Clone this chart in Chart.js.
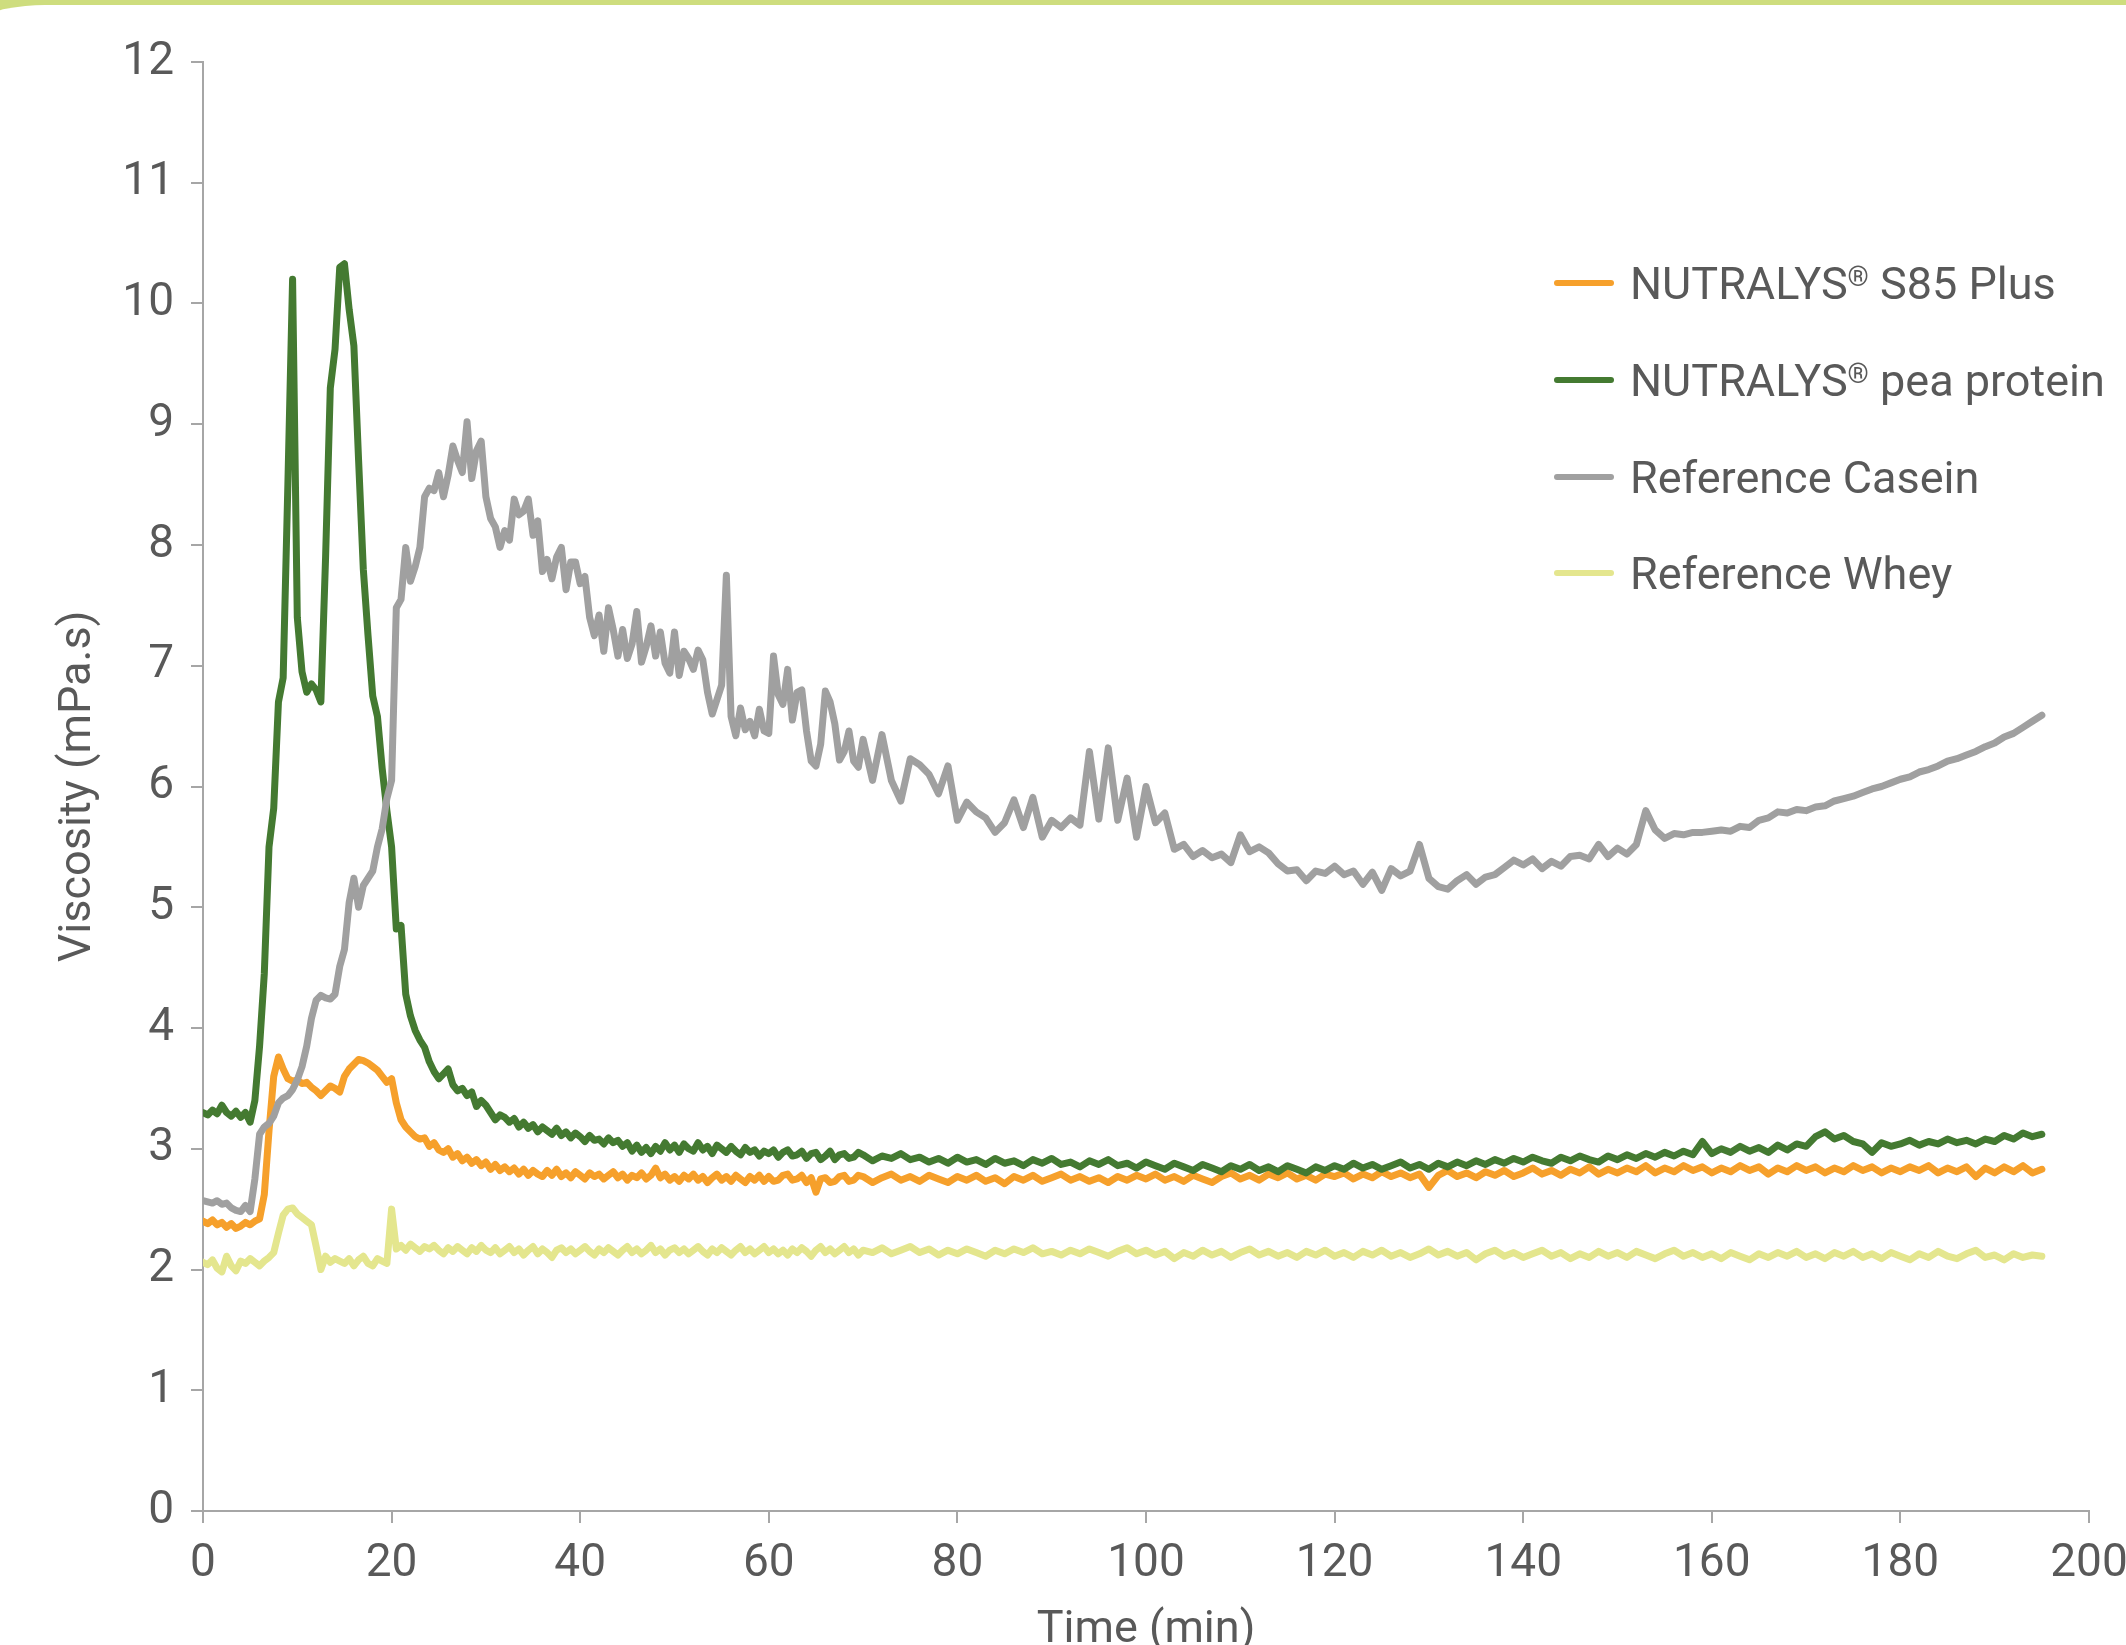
<!DOCTYPE html>
<html><head><meta charset="utf-8">
<script src="https://cdn.jsdelivr.net/npm/chart.js@4.4.1/dist/chart.umd.min.js"></script>
<style>
html,body{margin:0;padding:0;background:#fff;overflow:hidden;}
#wrap{position:relative;width:2126px;height:1645px;overflow:hidden;background:#fff;}
#band{position:absolute;left:0;top:0;width:2126px;height:60px;background:#cedd7e;}
#bandmask{position:absolute;left:-155px;top:5px;width:2400px;height:300px;background:#fff;border-top-left-radius:200px;}
#c{position:absolute;left:0;top:0;}
#legend{position:absolute;left:0;top:0;font-family:Roboto,'Noto Sans',sans-serif;color:#595959;font-size:45px;}
.item{position:absolute;left:1554px;height:60px;display:flex;align-items:center;white-space:nowrap;line-height:1;}
.swatch{width:60px;height:6px;border-radius:3px;margin-right:16px;flex:none;}
.item sup{font-size:0.6em;vertical-align:13px;line-height:0;}
</style></head>
<body>
<div id="wrap">
  <div id="band"></div><div id="bandmask"></div>
  <canvas id="c" width="2126" height="1645" style="width:2126px;height:1645px"></canvas>
  <div id="legend"></div>
</div>
<script>
// ---- data ----
const times = [
0,0.5,1,1.5,2,2.5,3,3.5,4,4.5,
5,5.5,6,6.5,7,7.5,8,8.5,9,9.5,
10,10.5,11,11.5,12,12.5,13,13.5,14,14.5,
15,15.5,16,16.5,17,17.5,18,18.5,19,19.5,
20,20.5,21,21.5,22,22.5,23,23.5,24,24.5,
25,25.5,26,26.5,27,27.5,28,28.5,29,29.5,
30,30.5,31,31.5,32,32.5,33,33.5,34,34.5,
35,35.5,36,36.5,37,37.5,38,38.5,39,39.5,
40,40.5,41,41.5,42,42.5,43,43.5,44,44.5,
45,45.5,46,46.5,47,47.5,48,48.5,49,49.5,
50,50.5,51,51.5,52,52.5,53,53.5,54,54.5,
55,55.5,56,56.5,57,57.5,58,58.5,59,59.5,
60,60.5,61,61.5,62,62.5,63,63.5,64,64.5,
65,65.5,66,66.5,67,67.5,68,68.5,69,69.5,
70,
71,72,73,74,75,76,77,78,79,80,
81,82,83,84,85,86,87,88,89,90,
91,92,93,94,95,96,97,98,99,100,
101,102,103,104,105,106,107,108,109,110,
111,112,113,114,115,116,117,118,119,120,
121,122,123,124,125,126,127,128,129,130,
131,132,133,134,135,136,137,138,139,140,
141,142,143,144,145,146,147,148,149,150,
151,152,153,154,155,156,157,158,159,160,
161,162,163,164,165,166,167,168,169,170,
171,172,173,174,175,176,177,178,179,180,
181,182,183,184,185,186,187,188,189,190,
191,192,193,194,195];

const s85Plus = [
2.40,2.38,2.41,2.37,2.39,2.35,2.38,2.34,2.36,2.39,
2.37,2.40,2.42,2.62,3.15,3.60,3.76,3.66,3.58,3.56,
3.57,3.54,3.55,3.51,3.48,3.44,3.48,3.52,3.50,3.47,
3.60,3.66,3.70,3.74,3.73,3.71,3.68,3.65,3.60,3.55,
3.58,3.38,3.24,3.18,3.14,3.10,3.08,3.09,3.02,3.05,
2.99,2.97,3.00,2.93,2.96,2.90,2.93,2.88,2.91,2.86,
2.89,2.83,2.87,2.82,2.85,2.81,2.84,2.79,2.83,2.78,
2.82,2.79,2.77,2.82,2.78,2.83,2.77,2.80,2.76,2.81,
2.78,2.75,2.80,2.77,2.79,2.75,2.78,2.81,2.76,2.79,
2.74,2.78,2.76,2.80,2.75,2.78,2.84,2.76,2.79,2.74,
2.77,2.73,2.78,2.75,2.79,2.74,2.77,2.72,2.76,2.79,
2.74,2.77,2.73,2.78,2.75,2.72,2.77,2.74,2.78,2.73,
2.77,2.73,2.74,2.78,2.79,2.74,2.75,2.78,2.72,2.76,
2.64,2.75,2.76,2.72,2.73,2.77,2.78,2.73,2.74,2.78,
2.77,
2.72,2.76,2.79,2.74,2.77,2.73,2.78,2.75,2.72,2.77,
2.74,2.78,2.73,2.76,2.71,2.77,2.74,2.78,2.73,2.76,
2.79,2.74,2.77,2.73,2.76,2.72,2.77,2.74,2.78,2.75,
2.79,2.74,2.77,2.73,2.78,2.75,2.72,2.77,2.80,2.75,
2.78,2.74,2.79,2.76,2.80,2.75,2.78,2.74,2.79,2.77,
2.80,2.75,2.79,2.76,2.81,2.77,2.80,2.76,2.79,2.68,
2.78,2.82,2.77,2.80,2.76,2.81,2.78,2.82,2.77,2.80,
2.84,2.79,2.82,2.78,2.83,2.80,2.85,2.79,2.83,2.80,
2.84,2.81,2.86,2.80,2.84,2.81,2.86,2.82,2.85,2.80,
2.84,2.81,2.86,2.82,2.85,2.79,2.84,2.81,2.86,2.82,
2.85,2.80,2.84,2.81,2.86,2.82,2.85,2.80,2.84,2.81,
2.85,2.82,2.86,2.80,2.84,2.81,2.85,2.77,2.84,2.80,
2.85,2.81,2.86,2.80,2.83];

const peaProtein = [
3.30,3.28,3.32,3.29,3.36,3.30,3.27,3.31,3.26,3.30,
3.22,3.40,3.85,4.45,5.50,5.82,6.70,6.90,8.50,10.20,
7.40,6.95,6.78,6.85,6.80,6.70,7.90,9.30,9.62,10.30,
10.33,9.95,9.65,8.70,7.80,7.25,6.75,6.58,6.15,5.80,
5.50,4.82,4.85,4.28,4.10,3.98,3.90,3.84,3.72,3.64,
3.58,3.62,3.66,3.53,3.48,3.50,3.44,3.47,3.35,3.40,
3.36,3.30,3.24,3.28,3.26,3.22,3.25,3.18,3.22,3.17,
3.20,3.14,3.18,3.15,3.12,3.17,3.11,3.14,3.09,3.13,
3.10,3.06,3.11,3.07,3.08,3.04,3.09,3.05,3.07,3.02,
3.05,2.98,3.03,2.97,3.01,2.96,3.02,2.98,3.05,2.99,
3.03,2.97,3.04,3.00,2.98,3.05,2.99,3.02,2.96,3.03,
3.00,2.97,3.02,2.98,2.95,3.01,2.97,2.99,2.94,2.98,
2.96,2.99,2.93,2.97,2.99,2.94,2.95,2.98,2.92,2.96,
2.97,2.91,2.94,2.98,2.91,2.95,2.96,2.92,2.93,2.97,
2.95,
2.90,2.94,2.92,2.96,2.91,2.93,2.89,2.92,2.88,2.93,
2.89,2.91,2.87,2.92,2.88,2.90,2.86,2.91,2.88,2.92,
2.87,2.89,2.85,2.90,2.87,2.91,2.86,2.88,2.84,2.89,
2.86,2.83,2.88,2.85,2.82,2.87,2.84,2.81,2.86,2.83,
2.87,2.82,2.85,2.81,2.86,2.83,2.80,2.85,2.82,2.86,
2.83,2.88,2.84,2.87,2.83,2.86,2.89,2.84,2.87,2.83,
2.88,2.85,2.89,2.86,2.90,2.87,2.91,2.88,2.92,2.89,
2.93,2.90,2.88,2.93,2.90,2.94,2.91,2.89,2.94,2.91,
2.95,2.92,2.96,2.93,2.97,2.94,2.98,2.95,3.06,2.96,
3.00,2.97,3.02,2.98,3.01,2.97,3.03,2.99,3.04,3.02,
3.10,3.14,3.08,3.11,3.06,3.04,2.97,3.05,3.02,3.04,
3.07,3.03,3.06,3.04,3.08,3.05,3.07,3.04,3.08,3.06,
3.11,3.08,3.13,3.10,3.12];

const casein = [
2.57,2.56,2.55,2.57,2.54,2.55,2.51,2.49,2.48,2.53,
2.48,2.75,3.12,3.18,3.21,3.27,3.38,3.42,3.44,3.49,
3.57,3.68,3.85,4.08,4.23,4.27,4.25,4.24,4.28,4.51,
4.65,5.04,5.24,5.00,5.18,5.24,5.30,5.50,5.65,5.90,
6.05,7.48,7.55,7.98,7.70,7.82,7.98,8.40,8.47,8.45,
8.60,8.40,8.58,8.82,8.70,8.60,9.02,8.55,8.78,8.86,
8.40,8.22,8.15,7.98,8.12,8.04,8.38,8.25,8.28,8.38,
8.08,8.20,7.78,7.88,7.72,7.90,7.98,7.63,7.86,7.86,
7.68,7.74,7.40,7.25,7.42,7.12,7.48,7.30,7.08,7.30,
7.06,7.18,7.45,7.03,7.16,7.33,7.08,7.28,7.02,6.94,
7.28,6.92,7.12,7.06,6.97,7.13,7.05,6.78,6.60,6.72,
6.84,7.75,6.58,6.42,6.65,6.47,6.54,6.42,6.64,6.46,
6.44,7.08,6.76,6.68,6.97,6.55,6.78,6.80,6.46,6.21,
6.17,6.35,6.79,6.70,6.52,6.22,6.29,6.46,6.21,6.16,
6.39,
6.05,6.43,6.05,5.88,6.23,6.18,6.10,5.94,6.17,5.72,
5.87,5.79,5.74,5.62,5.70,5.89,5.66,5.91,5.58,5.72,
5.66,5.74,5.68,6.29,5.73,6.32,5.72,6.07,5.58,6.00,
5.70,5.78,5.48,5.52,5.42,5.47,5.41,5.44,5.37,5.60,
5.46,5.50,5.45,5.36,5.30,5.31,5.22,5.30,5.28,5.34,
5.27,5.30,5.19,5.29,5.14,5.32,5.26,5.30,5.52,5.24,
5.17,5.15,5.22,5.27,5.19,5.25,5.27,5.33,5.39,5.35,
5.40,5.32,5.38,5.34,5.42,5.43,5.40,5.52,5.42,5.49,
5.44,5.52,5.80,5.64,5.57,5.61,5.60,5.62,5.62,5.63,
5.64,5.63,5.67,5.66,5.72,5.74,5.79,5.78,5.81,5.80,
5.83,5.84,5.88,5.90,5.92,5.95,5.98,6.00,6.03,6.06,
6.08,6.12,6.14,6.17,6.21,6.23,6.26,6.29,6.33,6.36,
6.41,6.44,6.49,6.54,6.59];

const whey = [
2.06,2.04,2.08,2.01,1.98,2.11,2.03,1.99,2.07,2.05,
2.09,2.06,2.03,2.07,2.10,2.14,2.30,2.45,2.50,2.51,
2.46,2.43,2.40,2.37,2.19,2.00,2.11,2.06,2.09,2.07,
2.05,2.09,2.03,2.08,2.11,2.05,2.03,2.09,2.07,2.05,
2.50,2.17,2.20,2.16,2.21,2.18,2.15,2.19,2.17,2.20,
2.16,2.13,2.18,2.15,2.19,2.16,2.13,2.18,2.15,2.20,
2.16,2.14,2.18,2.13,2.16,2.19,2.14,2.17,2.12,2.16,
2.19,2.13,2.17,2.14,2.10,2.16,2.18,2.14,2.17,2.13,
2.16,2.19,2.15,2.12,2.17,2.14,2.18,2.15,2.12,2.16,
2.19,2.14,2.17,2.13,2.16,2.20,2.14,2.17,2.12,2.16,
2.18,2.14,2.17,2.13,2.16,2.19,2.15,2.12,2.17,2.14,
2.18,2.15,2.12,2.16,2.19,2.14,2.17,2.13,2.16,2.19,
2.14,2.17,2.13,2.16,2.12,2.17,2.14,2.18,2.15,2.11,
2.16,2.19,2.14,2.17,2.13,2.16,2.19,2.14,2.17,2.12,
2.16,
2.14,2.18,2.13,2.16,2.19,2.14,2.17,2.12,2.16,2.13,
2.17,2.14,2.11,2.16,2.13,2.17,2.14,2.18,2.13,2.15,
2.12,2.16,2.13,2.17,2.14,2.11,2.15,2.18,2.13,2.16,
2.12,2.15,2.09,2.14,2.11,2.16,2.12,2.15,2.10,2.14,
2.17,2.12,2.15,2.11,2.14,2.10,2.15,2.12,2.16,2.11,
2.14,2.10,2.15,2.12,2.16,2.11,2.14,2.10,2.13,2.17,
2.12,2.15,2.11,2.14,2.08,2.13,2.16,2.11,2.14,2.10,
2.13,2.16,2.11,2.14,2.09,2.13,2.10,2.15,2.11,2.14,
2.10,2.15,2.12,2.09,2.13,2.16,2.11,2.14,2.10,2.13,
2.09,2.14,2.11,2.08,2.13,2.10,2.14,2.11,2.15,2.10,
2.13,2.09,2.14,2.11,2.15,2.10,2.13,2.09,2.14,2.11,
2.08,2.13,2.10,2.15,2.11,2.09,2.13,2.16,2.10,2.12,
2.08,2.13,2.10,2.12,2.11];

const seriesNames = ['NUTRALYS® S85 Plus', 'NUTRALYS® pea protein', 'Reference Casein', 'Reference Whey'];
const seriesColors = ['#f6a02b', '#447a31', '#a0a0a0', '#e4e68e'];
const xTicks = [0,20,40,60,80,100,120,140,160,180,200];
const yTicks = [0,1,2,3,4,5,6,7,8,9,10,11,12];

// ---- chart ----
const AXIS = '#a6a6a6', TXT = '#595959', FONT = "Roboto, 'Noto Sans', sans-serif";
const seriesValues = [s85Plus, peaProtein, casein, whey];
const drawOrder = [3, 2, 1, 0]; // later series drawn on top
const datasets = seriesValues.map((vals, k) => ({
  label: seriesNames[k],
  data: times.map((t, i) => ({x: t, y: vals[i]})),
  borderColor: seriesColors[k],
  backgroundColor: seriesColors[k],
  borderWidth: 7,
  pointRadius: 0,
  pointHoverRadius: 0,
  tension: 0,
  fill: false,
  borderJoinStyle: 'round',
  borderCapStyle: 'round',
  order: drawOrder[k]
}));

const axisCommon = {
  grid: {display: true, drawOnChartArea: false, drawTicks: true, tickLength: 12, color: AXIS, lineWidth: 2},
  border: {display: true, color: AXIS, width: 2}
};

new Chart(document.getElementById('c'), {
  type: 'line',
  data: {datasets},
  options: {
    responsive: false,
    devicePixelRatio: 1,
    animation: false,
    layout: {padding: {left: 0, right: 37, top: 62, bottom: 0}},
    plugins: {legend: {display: false}, tooltip: {enabled: false}},
    events: [],
    scales: {
      x: {
        type: 'linear', min: 0, max: 200,
        afterBuildTicks: s => { s.ticks = xTicks.map(v => ({value: v})); },
        ticks: {padding: 14, color: TXT, font: {family: FONT, size: 46}, maxRotation: 0, autoSkip: false},
        ...axisCommon,
        title: {display: true, text: 'Time (min)', color: TXT, font: {family: FONT, size: 45, lineHeight: 0.62}, padding: {top: 0, bottom: 0}},
        afterFit: s => { s.height = 134; s.paddingLeft = 0; s.paddingRight = 0; }
      },
      y: {
        type: 'linear', min: 0, max: 12,
        afterBuildTicks: s => { s.ticks = yTicks.map(v => ({value: v})); },
        ticks: {padding: 17, color: TXT, font: {family: FONT, size: 46}, autoSkip: false},
        ...axisCommon,
        title: {display: true, text: 'Viscosity (mPa.s)', color: TXT, font: {family: FONT, size: 45, lineHeight: 1.2}, padding: {top: 52, bottom: 0}},
        afterFit: s => { s.width = 203; s.paddingTop = 0; s.paddingBottom = 0; }
      }
    }
  }
});

// ---- legend (HTML text) ----
const legendRows = [283, 380, 477, 573];
const leg = document.getElementById('legend');
seriesNames.forEach((name, k) => {
  const item = document.createElement('div');
  item.className = 'item';
  item.style.top = (legendRows[k] - 30) + 'px';
  const sw = document.createElement('span');
  sw.className = 'swatch';
  sw.style.background = seriesColors[k];
  item.appendChild(sw);
  const txt = document.createElement('span');
  const parts = name.split('®');
  txt.appendChild(document.createTextNode(parts[0]));
  if (parts.length > 1) {
    const sup = document.createElement('sup');
    sup.textContent = '®';
    txt.appendChild(sup);
    txt.appendChild(document.createTextNode(parts[1]));
  }
  item.appendChild(txt);
  leg.appendChild(item);
});
</script>
</body></html>
